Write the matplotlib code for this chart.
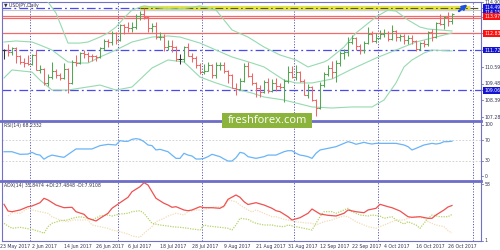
import matplotlib
matplotlib.use("Agg")
import matplotlib.pyplot as plt
from matplotlib.lines import Line2D
from matplotlib.patches import Rectangle
from matplotlib.transforms import blended_transform_factory as btf

# ---------------- data ----------------
opens = [111.72, 111.72, 111.60, 111.85, 111.30, 110.95, 110.85, 110.80, 111.40, 110.40,
         110.45, 109.55, 109.95, 110.30, 110.05, 109.90, 110.45, 109.55, 110.90, 110.85,
         111.55, 111.45, 111.35, 111.30, 111.25, 111.85, 112.30, 112.25, 112.85, 112.40,
         113.35, 113.25, 113.15, 113.25, 113.95, 114.10, 113.90, 113.20, 113.30, 112.55,
         112.60, 111.90, 112.00, 111.95, 111.10, 111.10, 111.90, 111.30, 111.20, 110.70,
         110.25, 110.35, 110.70, 110.05, 110.70, 110.75, 110.35, 110.05, 109.20, 109.15,
         109.65, 110.65, 110.00, 109.55, 109.20, 108.95, 109.60, 109.00, 109.55, 109.35,
         109.25, 109.65, 110.25, 109.95, 110.25, 109.70, 108.75, 109.25, 108.40, 107.85,
         109.40, 110.15, 110.50, 110.25, 110.85, 111.55, 111.60, 112.25, 112.50, 112.00,
         111.70, 112.20, 112.75, 112.30, 112.50, 112.75, 112.85, 112.45, 113.00, 112.60,
         112.65, 112.40, 112.50, 112.30, 111.80, 112.20, 112.10, 112.90, 112.60, 113.50,
         113.45, 113.90, 113.65]
highs = [111.80, 112.10, 111.95, 111.95, 111.40, 111.20, 111.40, 111.45, 111.70, 110.70,
         110.55, 110.10, 110.90, 110.45, 110.20, 110.85, 110.50, 111.05, 111.40, 111.60,
         111.75, 111.60, 111.45, 111.40, 111.90, 112.45, 112.45, 113.00, 112.90, 113.45,
         113.45, 113.55, 113.60, 114.10, 114.30, 114.49, 113.95, 113.50, 113.55, 112.90,
         112.80, 112.40, 112.40, 112.00, 111.45, 112.00, 112.20, 111.50, 111.30, 110.85,
         110.80, 110.90, 110.80, 110.90, 110.90, 110.90, 110.40, 110.10, 109.55, 109.85,
         110.85, 110.95, 110.20, 109.60, 109.40, 109.75, 109.85, 109.80, 109.85, 109.55,
         109.80, 110.65, 110.65, 110.70, 110.35, 109.80, 109.50, 109.35, 108.50, 109.60,
         110.25, 110.70, 111.00, 111.05, 111.65, 111.80, 112.55, 112.70, 112.55, 112.10,
         112.30, 113.25, 113.00, 112.85, 113.05, 113.10, 113.00, 113.40, 113.05, 112.80,
         112.80, 112.70, 112.70, 112.40, 112.25, 112.40, 113.00, 113.10, 113.60, 114.10,
         113.95, 114.25, 114.20]
lows = [111.10, 111.35, 111.40, 110.85, 110.80, 110.60, 110.70, 110.70, 110.40, 110.20,
        109.40, 109.35, 109.80, 109.85, 109.75, 109.80, 108.85, 109.50, 110.65, 110.80,
        111.20, 110.95, 111.00, 111.00, 111.20, 111.75, 111.95, 112.05, 112.10, 112.35,
        112.80, 112.90, 112.90, 113.10, 113.70, 113.80, 112.90, 112.90, 112.45, 112.40,
        111.65, 111.75, 111.60, 111.00, 110.80, 110.95, 111.30, 110.90, 110.50, 110.10,
        110.10, 110.30, 109.85, 109.90, 110.40, 110.20, 109.55, 109.20, 108.75, 109.10,
        109.60, 109.95, 109.40, 108.60, 108.60, 108.90, 108.85, 108.95, 109.00, 109.15,
        108.30, 109.55, 109.85, 109.75, 109.60, 108.75, 108.55, 108.35, 107.35, 107.80,
        109.30, 110.00, 109.90, 109.60, 110.65, 111.15, 111.30, 112.10, 111.70, 111.45,
        111.50, 112.10, 112.25, 112.20, 112.45, 112.60, 112.35, 112.40, 112.35, 112.30,
        112.15, 112.15, 112.10, 111.65, 111.70, 111.90, 112.00, 112.30, 112.50, 113.40,
        113.10, 113.30, 113.45]
closes = [111.72, 111.60, 111.85, 111.30, 110.95, 110.85, 110.80, 111.40, 110.40, 110.45,
          109.55, 109.95, 110.30, 110.05, 109.90, 110.45, 109.55, 110.90, 110.85, 111.55,
          111.45, 111.35, 111.30, 111.25, 111.85, 112.30, 112.25, 112.85, 112.40, 113.35,
          113.25, 113.15, 113.25, 113.95, 114.10, 113.90, 113.20, 113.30, 112.55, 112.60,
          111.90, 112.00, 111.95, 111.10, 111.10, 111.90, 111.30, 111.20, 110.70, 110.25,
          110.35, 110.70, 110.05, 110.70, 110.75, 110.35, 110.05, 109.20, 109.15, 109.65,
          110.65, 110.00, 109.55, 109.20, 108.95, 109.60, 109.00, 109.55, 109.35, 109.25,
          109.65, 110.25, 109.95, 110.25, 109.70, 108.75, 109.25, 108.40, 107.85, 109.40,
          110.15, 110.50, 110.25, 110.85, 111.55, 111.60, 112.25, 112.50, 112.00, 111.70,
          112.20, 112.75, 112.30, 112.50, 112.75, 112.85, 112.45, 113.00, 112.60, 112.65,
          112.40, 112.50, 112.30, 111.80, 112.20, 112.10, 112.90, 112.60, 113.50, 113.45,
          113.90, 113.65, 114.10]

# Bollinger-type envelope (bar index, price)
bb_upper_idx = [10, 11, 13, 16, 19, 21, 24, 26, 28, 30, 32, 35, 39, 43, 46, 49, 51, 53, 55, 57,
                61, 65, 69, 73, 76, 80, 81, 85, 88, 93, 96, 98, 101, 104, 106, 109, 112]
bb_upper = [115.43, 114.90, 114.17, 112.18, 112.18, 112.25, 112.58, 112.85, 113.24, 113.84,
            114.37, 114.64, 114.50, 114.44, 114.50, 114.64, 114.50, 114.37, 113.71, 113.05,
            112.58, 111.92, 111.39, 111.06, 110.60, 110.93, 111.06, 111.92, 112.85, 113.91,
            114.37, 114.30, 113.71, 113.24, 113.11, 113.05, 112.98]
bb_mid_idx = [0, 3, 7, 9, 12, 14, 16, 19, 21, 24, 28, 32, 37, 41, 44, 49, 53, 57, 62, 65,
              70, 73, 77, 82, 87, 93, 98, 103, 108, 112]
bb_mid = [112.25, 112.32, 112.25, 112.05, 111.72, 111.32, 110.93, 110.86, 110.86, 111.26,
          111.72, 112.25, 112.58, 112.65, 112.58, 112.18, 111.72, 111.26, 110.86, 110.60,
          109.73, 109.54, 109.54, 109.80, 110.46, 111.19, 111.72, 112.25, 112.58, 112.85]
bb_low_idx = [0, 2, 7, 9, 12, 16, 24, 28, 32, 37, 41, 45, 49, 53, 57, 62, 65, 70, 77, 82,
              87, 92, 95, 98, 100, 102, 105, 107, 112]
bb_low = [109.87, 110.40, 110.26, 109.73, 109.07, 109.07, 109.40, 109.07, 109.27, 110.53,
          111.06, 110.93, 109.93, 109.54, 109.20, 108.87, 108.61, 108.41, 107.95, 107.88,
          107.95, 107.95, 108.41, 109.54, 110.60, 111.06, 111.52, 111.72, 111.66]

# horizontal levels
level_blue = [114.49, 111.72, 109.06]
level_red = [113.99, 113.82, 112.83]
level_grey = 114.34
price_ticks = [114.90, 110.59, 109.48, 108.39, 107.28]
price_tags = [("114.49", 114.52, "#1414d2"), ("114.15", 114.22, "#1414d2"),
              ("113.97", 113.92, "#ff1010"), ("112.83", 112.83, "#ff1010"),
              ("111.72", 111.72, "#1414d2"), ("109.06", 109.06, "#1414d2")]

# RSI(14)
rsi_idx = [0, 2, 4, 6, 7, 8, 9, 10, 11, 12, 14, 15, 17, 18, 21, 22, 24, 26, 28, 29, 30, 31, 32,
           33, 34, 35, 36, 37, 38, 39, 41, 42, 43, 44, 45, 46, 47, 48, 49, 50, 51, 52, 54, 55,
           56, 57, 58, 59, 60, 61, 63, 65, 66, 68, 70, 71, 72, 73, 74, 75, 76, 77, 78, 79, 81,
           83, 85, 86, 87, 88, 89, 90, 91, 92, 93, 95, 96, 98, 100, 101, 102, 103, 104, 105,
           107, 108, 109, 110, 111, 112]
rsi = [47.6, 47.6, 42.5, 43.0, 46.4, 42.5, 41.0, 33.0, 37.9, 41.0, 37.9, 36.6, 47.6, 53.0,
       53.0, 53.0, 59.5, 62.0, 60.8, 69.3, 68.0, 68.0, 71.9, 73.2, 71.9, 67.3, 60.8, 59.5,
       51.0, 52.3, 47.6, 41.0, 34.6, 34.6, 44.5, 41.0, 39.2, 33.3, 33.3, 34.6, 37.9, 42.5,
       37.9, 33.3, 29.4, 29.4, 35.9, 46.4, 44.5, 37.9, 34.6, 37.9, 41.0, 41.0, 47.6, 49.6,
       49.6, 44.5, 41.0, 39.8, 37.9, 34.6, 44.5, 51.0, 54.2, 57.5, 64.0, 67.3, 65.3, 62.2,
       64.0, 66.0, 64.0, 62.7, 64.0, 64.0, 64.0, 64.0, 60.8, 57.5, 51.0, 54.2, 57.5, 60.8,
       64.0, 62.7, 64.0, 67.3, 67.3, 68.2]
rsi_levels = [70, 30]
rsi_ticks = [100, 70, 30, 0]

# ADX(14)
adx_idx = [0, 1, 2, 4, 6, 7, 9, 10, 11, 13, 15, 17, 18, 20, 21, 23, 24, 26, 27, 29, 31, 32, 34,
           35, 36, 37, 38, 40, 41, 42, 43, 45, 46, 47, 49, 50, 52, 54, 55, 56, 58, 59, 60, 61,
           63, 65, 67, 68, 69, 71, 72, 74, 76, 77, 79, 81, 83, 85, 86, 88, 90, 91, 93, 94, 96,
           97, 99, 101, 102, 104, 106, 107, 108, 110, 111, 112]
adx = [37.7, 31.0, 30.3, 32.0, 35.3, 36.0, 39.3, 43.7, 42.0, 37.0, 34.3, 34.7, 30.3, 27.7,
       23.7, 21.0, 23.7, 28.7, 33.7, 39.3, 44.7, 50.3, 55.3, 59.3, 57.0, 50.3, 43.7, 38.7,
       37.0, 34.7, 35.3, 32.0, 31.3, 32.0, 35.3, 34.3, 34.3, 33.7, 36.0, 42.7, 47.0, 44.7,
       40.3, 37.5, 39.3, 37.0, 33.7, 31.3, 30.3, 25.3, 22.0, 24.3, 28.7, 33.0, 28.0, 26.7,
       26.0, 28.7, 32.0, 30.3, 29.3, 32.0, 33.7, 37.7, 35.3, 34.3, 31.0, 25.3, 24.7, 25.3,
       23.7, 23.7, 27.0, 32.0, 35.0, 36.5]
pdi_idx = [0, 1, 2, 4, 6, 7, 9, 10, 11, 12, 14, 16, 17, 19, 21, 22, 24, 26, 27, 29, 31, 32, 34,
           35, 36, 37, 39, 41, 42, 44, 46, 47, 49, 50, 51, 54, 56, 57, 58, 59, 61, 62, 63, 65,
           67, 68, 70, 71, 73, 75, 77, 78, 79, 80, 82, 83, 85, 86, 87, 89, 91, 92, 94, 95, 97,
           98, 100, 101, 103, 104, 106, 107, 109, 111, 112]
pdi = [18.7, 16.0, 13.7, 14.7, 13.3, 12.7, 10.3, 8.7, 15.3, 18.7, 21.3, 22.0, 23.7, 25.3,
       23.7, 22.0, 26.0, 27.0, 26.0, 28.0, 28.7, 30.3, 31.3, 28.7, 23.7, 18.7, 17.0, 16.0,
       15.3, 14.7, 13.7, 13.0, 12.0, 17.0, 16.0, 14.7, 13.7, 12.0, 17.0, 23.7, 22.7, 20.3,
       18.7, 17.0, 17.0, 16.0, 15.3, 17.0, 15.3, 13.7, 12.0, 18.7, 25.3, 30.3, 30.3, 28.7,
       32.0, 33.7, 30.3, 27.0, 26.0, 27.0, 26.0, 23.7, 25.3, 22.0, 18.0, 20.3, 17.0, 13.7,
       23.7, 27.0, 25.3, 25.3, 27.5]
mdi_idx = [1, 2, 4, 6, 7, 9, 11, 12, 14, 16, 17, 19, 21, 22, 24, 26, 27, 29, 31, 32, 34, 35,
           37, 38, 40, 41, 43, 45, 46, 48, 50, 51, 53, 55, 56, 58, 59, 61, 62, 63, 65, 67, 68,
           70, 71, 73, 75, 77, 78, 80, 82, 83, 85, 86, 88, 90, 91, 93, 95, 97, 98, 100, 101,
           103, 105, 106, 108, 110, 111, 112]
mdi = [26.0, 29.3, 28.7, 33.7, 32.0, 30.3, 28.7, 25.3, 22.0, 20.3, 22.0, 22.0, 22.0, 17.0,
       15.3, 13.7, 12.0, 10.3, 8.0, 6.0, 4.7, 8.7, 15.3, 20.3, 23.7, 26.0, 28.7, 27.0, 30.3,
       32.0, 32.0, 33.7, 35.3, 34.7, 42.0, 40.3, 37.0, 32.0, 30.0, 32.0, 28.7, 25.3, 25.3,
       22.7, 22.0, 20.3, 19.3, 18.7, 17.0, 20.3, 22.0, 23.7, 26.0, 25.3, 20.3, 17.0, 15.3,
       13.7, 17.0, 20.3, 22.0, 22.0, 23.7, 25.3, 23.7, 20.3, 17.0, 15.3, 11.3, 9.0]
adx_ticks = [58, 1]

# dates
xtick_idx = [0, 8, 16, 24, 32, 40, 48, 56, 64, 72, 80, 88, 96, 104, 112]
xtick_labels = ["23 May 2017", "2 Jun 2017", "14 Jun 2017", "26 Jun 2017", "6 Jul 2017",
                "18 Jul 2017", "28 Jul 2017", "9 Aug 2017", "21 Aug 2017", "31 Aug 2017",
                "12 Sep 2017", "22 Sep 2017", "4 Oct 2017", "16 Oct 2017", "26 Oct 2017"]
month_start_idx = [7, 29, 50, 73, 94]

# ---------------- figure ----------------
W, H = 500, 250
fig = plt.figure(figsize=(5, 2.5), dpi=100)
fig.patch.set_facecolor("white")


def fx(px):
    return px / W


def fy(py):
    return 1 - py / H


L, R = 2, 481
ax1 = fig.add_axes([fx(L), fy(121), (R - L) / W, (121 - 2) / H])
ax2 = fig.add_axes([fx(L), fy(180.5), (R - L) / W, (180.5 - 121) / H])
ax3 = fig.add_axes([fx(L), fy(241), (R - L) / W, (241 - 180.5) / H])

frame_c = "#7272c4"
for ax in (ax1, ax2, ax3):
    ax.set_xlim(-0.5, 119.25)
    ax.set_xticks([])
    ax.set_yticks([])
    for s in ax.spines.values():
        s.set_color(frame_c)
        s.set_linewidth(0.8)
    ax.set_facecolor("white")

ax1.set_ylim(107.02, 114.90)
ax2.set_ylim(-8.8, 107.8)
ax3.set_ylim(1, 61.5)

# month separators
sep_c = "#5a5ab4"
for ax in (ax1, ax2, ax3):
    for m in month_start_idx:
        ax.axvline(m - 0.5, color=sep_c, lw=0.7, ls=(0, (1.2, 1.6)), zorder=1)
    ax.axvline(117.25, color=sep_c, lw=0.7, ls=(0, (1.2, 1.6)), zorder=1)

# horizontal levels in price panel
ax1.axhline(level_grey, color="#c8c8c8", lw=0.8, zorder=1)
for p in level_red:
    ax1.axhline(p, color="#f26a6a", lw=0.9, zorder=2)
dashdot = (0, (7, 2.5, 1.5, 2.5))
for p in level_blue[1:]:
    ax1.axhline(p, color="#4a4af0", lw=0.9, ls=dashdot, zorder=2)
# top level: blue on the left, yellow highlighted on the right
ax1.plot([-0.5, 34], [level_blue[0]] * 2, color="#4a4af0", lw=0.9, ls=dashdot, zorder=2)
ax1.plot([34, 116.5], [level_blue[0]] * 2, color="#cfcfcf", lw=3.8, zorder=2,
         solid_capstyle="butt")
ax1.plot([34, 116.5], [level_blue[0]] * 2, color="#e6e63c", lw=2.6, zorder=2,
         solid_capstyle="butt")
ax1.plot([34, 119.25], [level_blue[0]] * 2, color="#5a5a20", lw=0.8, ls=dashdot, zorder=3)

# envelope lines
band_c = "#96dab0"
ax1.plot(bb_upper_idx, bb_upper, color=band_c, lw=0.8, zorder=3)
ax1.plot(bb_mid_idx, bb_mid, color=band_c, lw=0.8, zorder=3)
ax1.plot(bb_low_idx, bb_low, color=band_c, lw=0.8, zorder=3)

# OHLC bars
up_c, dn_c, fl_c = "#52a852", "#f06666", "#333333"
for i, (o, h, l, c) in enumerate(zip(opens, highs, lows, closes)):
    col = up_c if c > o else (dn_c if c < o else fl_c)
    ax1.vlines(i, l, h, color=col, lw=0.75, zorder=4)
    ax1.hlines(o, i - 0.42, i, color=col, lw=0.75, zorder=4)
    ax1.hlines(c, i, i + 0.42, color=col, lw=0.75, zorder=4)

# arrow
ax1.annotate("", xy=(116.4, 114.86), xytext=(113.2, 114.18),
             arrowprops=dict(arrowstyle="-|>", color="#1f4fe0", lw=1.6, mutation_scale=7),
             zorder=6, annotation_clip=False)

# RSI panel
for v in rsi_levels:
    ax2.axhline(v, color="#cccccc", lw=0.6, ls=(0, (2, 2)), zorder=1)
ax2.plot(rsi_idx, rsi, color="#6ab4f8", lw=0.9, zorder=3)

# ADX panel
ax3.plot(mdi_idx, mdi, color="#f3dcb8", lw=0.9, ls=(0, (1, 1)), zorder=2)
ax3.plot(pdi_idx, pdi, color="#b6d46a", lw=0.9, ls=(0, (1, 1)), zorder=2)
ax3.plot(adx_idx, adx, color="#f05050", lw=0.9, zorder=3)

# right-side labels
fs = 3.3
txt_c = "#333355"


def rlabel(ax, v, s, bg=None):
    tr = btf(ax.transAxes, ax.transData)
    ax.plot([1.0, 1.005], [v, v], transform=tr, color=frame_c, lw=0.6, clip_on=False)
    if bg is None:
        ax.text(1.007, v, s, transform=tr, fontsize=fs, color=txt_c, va="center",
                ha="left", clip_on=False)
    else:
        ax.text(1.007, v, s, transform=tr, fontsize=fs, color="white", va="center",
                ha="left", clip_on=False, zorder=10,
                bbox=dict(boxstyle="square,pad=0.2", fc=bg, ec="none"))


for p in price_ticks:
    rlabel(ax1, p, f"{p:.2f}")
for s, p, c in price_tags:
    rlabel(ax1, p, s, c)
for v in rsi_ticks:
    rlabel(ax2, v, f"{v}")
for v in adx_ticks:
    rlabel(ax3, v, f"{v}")

# x labels
trx = btf(ax3.transData, ax3.transAxes)
for i, s in zip(xtick_idx, xtick_labels):
    ax3.text(i - 1, -0.085, s, transform=trx, fontsize=fs, color=txt_c, ha="left",
             va="center", clip_on=False)

# panel captions
fig.text(fx(4), fy(5.5), "\u25bc USDJPY,Daily", fontsize=fs, color="#333344", va="center")
fig.text(fx(4), fy(126), f"RSI(14) {68.2332}", fontsize=fs, color="#333344", va="center")
fig.text(fx(4), fy(186), "ADX(14) 35.8474 +DI:27.4848 -DI:7.9108", fontsize=fs,
         color="#333344", va="center")

# thick separators between panels
for yy in (121, 180.5):
    fig.add_artist(Line2D([fx(0), fx(481)], [fy(yy), fy(yy)], color="#6e6ec8", lw=2.0,
                          zorder=20))

# watermark
fig.add_artist(Rectangle((fx(222), fy(128)), 90 / W, 15 / H, facecolor="#8cb43c",
                         edgecolor="none", zorder=30))
fig.text(fx(267), fy(120.5), "freshforex.com", fontsize=8, color="white", ha="center",
         va="center", family=["Open Sans", "DejaVu Sans"], zorder=31)

fig.savefig("out.png", dpi=100, facecolor="white")
